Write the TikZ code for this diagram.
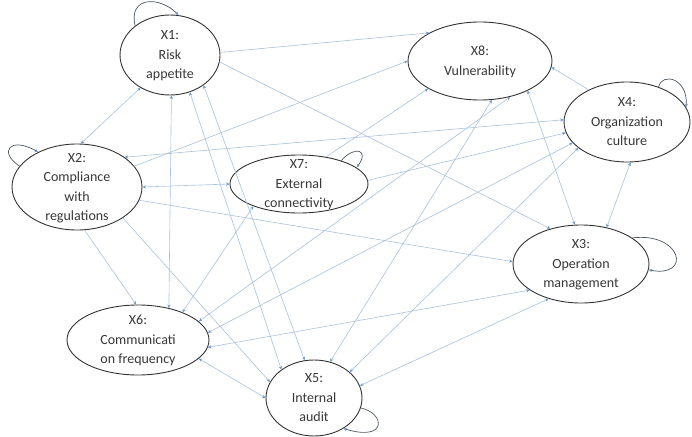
\documentclass[tikz,border=0pt]{standalone}
\usepackage{fontspec}
\setmainfont{Carlito}
\usetikzlibrary{shapes.geometric,arrows.meta}
\definecolor{edgec}{HTML}{A9C1DD}
\definecolor{headc}{HTML}{6F97C8}
\definecolor{txtc}{HTML}{383838}
\newcommand{\vtxt}[1]{\smash{\raisebox{-4pt}{\begin{tabular}[c]{@{}c@{}}#1\end{tabular}}}}
\begin{document}
\begin{tikzpicture}[x=1pt,y=-1pt,
  var/.style={ellipse,draw=black!80,line width=0.9pt,inner sep=0pt,fill=white,
    font=\fontsize{14}{19.5}\selectfont,text=txtc},
  link/.style={draw=edgec,line width=0.6pt,-{Stealth[length=3.5pt,width=3.2pt,color=headc]}},
  blink/.style={draw=edgec,line width=0.6pt,{Stealth[length=3.5pt,width=3.2pt,color=headc]}-{Stealth[length=3.5pt,width=3.2pt,color=headc]}},
  selfloop/.style={draw=black!55!edgec,line width=0.7pt,-{Stealth[length=3.5pt,width=3.2pt,color=headc]}}]
\useasboundingbox (0,0) rectangle (692,436);
\coordinate (c1) at (170,55);
\coordinate (c8) at (480,61);
\coordinate (c4) at (627,122);
\coordinate (c2) at (77,187);
\coordinate (c7) at (299,184);
\coordinate (c3) at (581,264);
\coordinate (c6) at (138,340);
\coordinate (c5) at (314,398);

\node[var,minimum width=100pt,minimum height=80pt] (x1) at (c1) {\vtxt{X1:\\Risk\\appetite}};
\node[var,minimum width=144pt,minimum height=78pt] (x8) at (c8) {\vtxt{X8:\\Vulnerability}};
\node[var,minimum width=126pt,minimum height=80pt] (x4) at (c4) {\vtxt{X4:\\Organization\\culture}};
\node[var,minimum width=130pt,minimum height=86pt] (x2) at (c2) {\vtxt{X2:\\Compliance\\with\\regulations}};
\node[var,minimum width=138pt,minimum height=58pt] (x7) at (c7) {\vtxt{X7:\\External\\connectivity}};
\node[var,minimum width=136pt,minimum height=78pt] (x3) at (c3) {\vtxt{X3:\\Operation\\management}};
\node[var,minimum width=142pt,minimum height=70pt] (x6) at (c6) {\vtxt{X6:\\Communicati\\on frequency}};
\node[var,minimum width=96pt,minimum height=76pt] (x5) at (c5) {\vtxt{X5:\\Internal\\audit}};

% connectors
\draw[link] (x1.3) -- (x8.151);
\draw[link] (x1.-8) -- (x3.131);
\draw[blink] (x2.85) -- (x1.228);
\draw[blink] (x1.-88) -- (x6.46);
\draw[blink] (x5.139) -- (x1.-62);
\draw[blink] (x5.104) -- (x1.-42);
\draw[blink] (x2.32) -- (x4.178);
\draw[link] (x2.20) -- (x8.180);
\draw[blink] (x2.0) -- (x7.180);
\draw[link] (x2.-12) -- (x3.178);
\draw[link] (x2.-34) -- (x5.160);
\draw[link] (x2.-80) -- (x6.93);
\draw[blink] (x6.32) -- (x7.206);
\draw[blink] (x6.17) -- (x8.-50);
\draw[blink] (x6.6) -- (x4.201);
\draw[blink] (x6.-6) -- (x3.207);
\draw[blink] (x6.-17) -- (x5.180);
\draw[blink] (x5.66) -- (x8.-73);
\draw[blink] (x5.36) -- (x4.208);
\draw[blink] (x5.15) -- (x3.227);
\draw[link] (x7.45) -- (x8.208);
\draw[link] (x7.3) -- (x4.190);
\draw[blink] (x3.55) -- (x4.-85);
\draw[blink] (x3.99) -- (x8.-32);
\draw[link] (x4.140) -- (x8.-5);

% self loops
\draw[selfloop] (x1.140) .. controls (128,-4) and (160,-4) .. (x1.78);
\draw[selfloop] (x2.160) .. controls (-2,152) and (10,136) .. (x2.138);
\draw[selfloop] (x7.29) .. controls (355,145) and (370,150) .. (x7.16);
\draw[selfloop] (x4.48) .. controls (662,72) and (688,78) .. (x4.14);
\draw[selfloop] (x3.27) .. controls (682,232) and (692,278) .. (x3.-5);
\draw[selfloop] (x5.-12) .. controls (385,413) and (388,442) .. (x5.-46);
\end{tikzpicture}
\end{document}
